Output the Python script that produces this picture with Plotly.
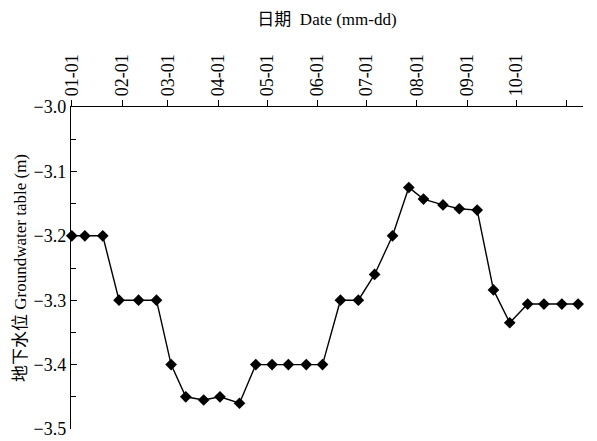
import plotly.graph_objects as go

dates = ["01-01", "01-09", "01-20", "01-30", "02-11", "02-22", "03-03", "03-12",
         "03-23", "04-02", "04-14", "04-24", "05-04", "05-14", "05-25", "06-04",
         "06-15", "06-26", "07-06", "07-17", "07-27", "08-05", "08-17", "08-27",
         "09-07", "09-17", "09-27", "10-08", "10-18", "10-29", "11-08"]
levels = [-3.20, -3.20, -3.20, -3.30, -3.30, -3.30, -3.40, -3.45,
          -3.455, -3.45, -3.46, -3.40, -3.40, -3.40, -3.40, -3.40,
          -3.30, -3.30, -3.26, -3.20, -3.125, -3.143, -3.152, -3.158,
          -3.16, -3.284, -3.335, -3.306, -3.306, -3.306, -3.306]

month_ticks = ["01-01", "02-01", "03-01", "04-01", "05-01", "06-01",
               "07-01", "08-01", "09-01", "10-01", "11-01"]
month_labels = ["01-01", "02-01", "03-01", "04-01", "05-01", "06-01",
                "07-01", "08-01", "09-01", "10-01", ""]
y_ticks = [-3.0, -3.1, -3.2, -3.3, -3.4, -3.5]

YEAR = "2001"
x = [f"{YEAR}-{d}" for d in dates]

FONT = "Liberation Serif, Times New Roman, Noto Sans CJK SC, serif"

fig = go.Figure()
fig.add_trace(go.Scatter(
    x=x, y=levels, mode="lines+markers",
    line=dict(color="black", width=1.4),
    marker=dict(symbol="diamond", size=9, color="black"),
    showlegend=False, cliponaxis=False,
))

fig.update_layout(
    width=589, height=433,
    margin=dict(l=63, r=14, t=99, b=12),
    paper_bgcolor="white", plot_bgcolor="white",
    font=dict(family=FONT, color="black", size=16),
    xaxis=dict(
        type="date", side="top", automargin=False,
        range=[f"2000-12-31 12:00", f"{YEAR}-11-11"],
        tickmode="array",
        tickvals=[f"{YEAR}-{m}" for m in month_ticks],
        ticktext=month_labels,
        tickangle=-90,
        tickfont=dict(size=18, family=FONT),
        ticks="outside", ticklen=6, tickwidth=1, tickcolor="black",
        showline=True, linecolor="black", linewidth=1.4,
        showgrid=False, zeroline=False,
        title=dict(text="日期  Date (mm-dd)", font=dict(size=17, family=FONT), standoff=24),
    ),
    yaxis=dict(
        range=[-3.5, -3.0], automargin=False,
        tickmode="array", tickvals=y_ticks, tickformat=".1f",
        tickfont=dict(size=18, family=FONT),
        ticks="inside", ticklen=6, tickwidth=1, tickcolor="black",
        minor=dict(dtick=0.05, ticks="inside", ticklen=5, tickcolor="black", tickwidth=1),
        showline=True, linecolor="black", linewidth=1.4,
        showgrid=False, zeroline=False,
        title=dict(text="地下水位 Groundwater table (m)", font=dict(size=17, family=FONT), standoff=2),
    ),
)

fig.write_html("out.html")
